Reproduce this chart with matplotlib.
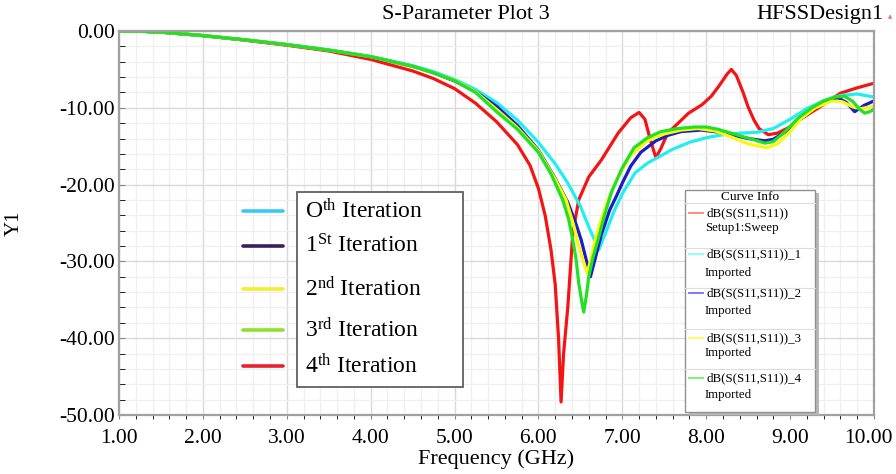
import numpy as np
import matplotlib
matplotlib.use("Agg")
import matplotlib.pyplot as plt
import matplotlib.transforms as mtransforms
from matplotlib.patches import Rectangle
from matplotlib.lines import Line2D

plt.rcParams['font.family'] = ['Liberation Serif', 'DejaVu Serif']
plt.rcParams['mathtext.fontset'] = 'custom'
plt.rcParams['mathtext.rm'] = 'Liberation Serif'
plt.rcParams['mathtext.it'] = 'Liberation Serif:italic'

# 4th iteration -> dB(S(S11,S11)) Setup1:Sweep
f_red = [1.0, 1.25, 1.5, 2.0, 2.5, 3.0, 3.5, 4.0, 4.5, 4.75, 5.0, 5.25, 5.5, 5.75, 5.9,
         6.0, 6.08, 6.15, 6.2, 6.24, 6.27, 6.3, 6.35, 6.41, 6.48, 6.6, 6.75, 6.95, 7.1,
         7.2, 7.27, 7.33, 7.4, 7.46, 7.52, 7.58, 7.79, 7.95, 8.06, 8.15, 8.25, 8.3,
         8.36, 8.44, 8.5, 8.57, 8.63, 8.74, 8.85, 8.98, 9.15, 9.34, 9.6, 9.8, 10.0]
db_red = [0.0, -0.03, -0.15, -0.6, -1.2, -1.85, -2.6, -3.7, -5.2, -6.2, -7.5, -9.4, -11.8,
          -14.8, -17.5, -20.5, -24.0, -28.5, -33.0, -40.0, -48.3, -42.0, -36.0, -26.3,
          -22.0, -19.0, -16.8, -13.3, -11.3, -10.6, -11.5, -14.0, -16.5, -15.3, -13.8,
          -12.9, -10.7, -9.6, -8.5, -7.2, -5.6, -5.0, -5.8, -8.0, -9.9, -11.6, -12.7,
          -13.5, -13.3, -12.6, -11.3, -10.0, -8.1, -7.4, -6.8]

# 0th iteration -> dB(S(S11,S11))_1
f_cyan = [1.0, 1.25, 1.5, 2.0, 2.5, 3.0, 3.5, 4.0, 4.5, 4.75, 5.0, 5.25, 5.5, 5.75, 6.0,
          6.2, 6.35, 6.5, 6.6, 6.72, 6.8, 6.9, 7.0, 7.15, 7.3, 7.45, 7.6, 7.8, 8.0, 8.2,
          8.4, 8.6, 8.8, 9.0, 9.2, 9.4, 9.6, 9.8, 10.0]
db_cyan = [0.0, -0.03, -0.15, -0.6, -1.15, -1.75, -2.45, -3.3, -4.5, -5.3, -6.3, -7.6,
           -9.3, -11.6, -14.5, -17.3, -19.8, -22.8, -25.5, -28.5, -26.3, -23.5, -21.2,
           -18.5, -17.2, -16.3, -15.4, -14.5, -13.9, -13.5, -13.3, -13.2, -12.7, -11.5,
           -10.1, -9.1, -8.4, -8.2, -8.6]

# 1st iteration -> dB(S(S11,S11))_2
f_blue = [1.0, 1.25, 1.5, 2.0, 2.5, 3.0, 3.5, 4.0, 4.5, 4.75, 5.0, 5.25, 5.5, 5.75, 6.0,
          6.2, 6.35, 6.45, 6.51, 6.57, 6.62, 6.68, 6.75, 6.85, 6.93, 7.0, 7.1, 7.22, 7.4,
          7.54, 7.7, 7.94, 8.1, 8.3, 8.5, 8.7, 8.8, 8.95, 9.13, 9.3, 9.46, 9.57, 9.67,
          9.77, 9.88, 10.0]
db_blue = [0.0, -0.03, -0.15, -0.6, -1.15, -1.78, -2.5, -3.35, -4.6, -5.45, -6.5, -7.9,
           -9.8, -12.3, -15.5, -19.2, -22.3, -25.2, -27.2, -29.8, -32.0, -29.5, -26.5,
           -23.3, -21.5, -19.8, -17.6, -15.8, -14.3, -13.6, -13.1, -12.9, -13.1, -13.5,
           -14.0, -14.3, -14.1, -13.1, -11.2, -9.9, -9.0, -8.7, -9.3, -10.5, -9.7, -9.1]

# 2nd iteration -> dB(S(S11,S11))_3
f_yellow = [1.0, 1.25, 1.5, 2.0, 2.5, 3.0, 3.5, 4.0, 4.5, 4.75, 5.0, 5.25, 5.5, 5.75, 6.0,
            6.2, 6.33, 6.42, 6.47, 6.53, 6.58, 6.62, 6.67, 6.75, 6.83, 6.95, 7.1, 7.3, 7.5,
            7.7, 7.9, 8.1, 8.3, 8.5, 8.72, 8.85, 9.0, 9.13, 9.3, 9.5, 9.62, 9.75, 9.85, 10.0]
db_yellow = [0.0, -0.03, -0.15, -0.6, -1.15, -1.78, -2.5, -3.35, -4.6, -5.45, -6.4, -7.9,
             -10.2, -12.6, -15.6, -19.3, -22.0, -25.3, -27.6, -29.8, -31.5, -30.0, -27.5,
             -24.5, -22.0, -19.0, -16.2, -14.3, -13.4, -12.9, -12.7, -13.0, -13.8, -14.7,
             -15.2, -14.7, -13.1, -11.4, -10.0, -9.1, -9.2, -9.9, -10.1, -9.8]

# 3rd iteration -> dB(S(S11,S11))_4
f_green = [1.0, 1.25, 1.5, 2.0, 2.5, 3.0, 3.5, 4.0, 4.5, 4.75, 5.0, 5.25, 5.5, 5.75, 6.0,
           6.15, 6.29, 6.36, 6.41, 6.45, 6.48, 6.51, 6.54, 6.57, 6.6, 6.65, 6.71, 6.78,
           6.87, 7.0, 7.14, 7.3, 7.46, 7.66, 7.86, 8.0, 8.14, 8.3, 8.42, 8.55, 8.7, 8.8,
           8.94, 9.1, 9.26, 9.4, 9.53, 9.65, 9.75, 9.83, 9.89, 9.95, 10.0]
db_green = [0.0, -0.03, -0.15, -0.6, -1.15, -1.78, -2.5, -3.35, -4.6, -5.45, -6.45, -8.0,
            -10.5, -12.8, -15.8, -18.6, -22.0, -24.5, -27.2, -29.8, -32.8, -34.8, -36.6,
            -34.6, -32.0, -29.5, -27.2, -24.3, -21.0, -17.8, -15.2, -13.9, -13.1, -12.7,
            -12.5, -12.5, -12.8, -13.3, -13.7, -14.1, -14.6, -14.4, -13.1, -11.3, -10.0,
            -9.1, -8.6, -8.5, -9.2, -10.2, -10.7, -10.5, -10.2]

iter_labels = [r'O$^{\mathrm{th}}$ Iteration', r'1$^{\mathrm{St}}$ Iteration',
               r'2$^{\mathrm{nd}}$ Iteration', r'3$^{\mathrm{rd}}$ Iteration',
               r'4$^{\mathrm{th}}$ Iteration']
iter_colors = ['#38c8f8', '#3b1e5e', '#f0f030', '#90e030', '#e82030']

info_names = ['dB(S(S11,S11))', 'dB(S(S11,S11))_1', 'dB(S(S11,S11))_2',
              'dB(S(S11,S11))_3', 'dB(S(S11,S11))_4']
info_sub = ['Setup1:Sweep', 'Imported', 'Imported', 'Imported', 'Imported']
info_colors = ['#ff8080', '#80ffff', '#7070f0', '#ffff50', '#70f070']

fig = plt.figure(figsize=(8.96, 4.74), dpi=100)
ax = fig.add_axes([0.1328, 0.1245, 0.8426, 0.8101])

ax.plot(f_red, db_red, color='#f41414', lw=2.3)
ax.plot(f_cyan, db_cyan, color='#22eef0', lw=2.3)
ax.plot(f_blue, db_blue, color='#1c1cc8', lw=2.3)
ax.plot(f_yellow, db_yellow, color='#f8f810', lw=2.3)
ax.plot(f_green, db_green, color='#22e022', lw=2.3)

ax.set_xlim(1, 10)
ax.set_ylim(-50, 0)
ax.set_xticks(np.arange(1, 10.5, 1))
ax.set_xticks(np.arange(1, 10.01, 0.2), minor=True)
ax.set_yticks(np.arange(-50, 0.5, 10))
ax.set_yticks(np.arange(-50, 0.5, 2), minor=True)
ax.set_xticklabels(['%.2f' % v for v in np.arange(1, 10.5, 1)])
ax.set_yticklabels(['%.2f' % v for v in np.arange(-50, 0.5, 10)])
ax.grid(which='major', color='#d9d9d9', lw=1.0)
ax.grid(which='minor', color='#efefef', lw=0.9)
ax.set_axisbelow(True)
ax.tick_params(axis='both', which='major', labelsize=15.5, color='#888888')
ax.tick_params(axis='x', which='both', direction='out', length=3, pad=7)
ax.tick_params(axis='y', which='both', direction='in', length=4, pad=3)
for s in ax.spines.values():
    s.set_color('#a0a0a0')
    s.set_linewidth(1.6)
ax.set_xlabel('Frequency (GHz)', fontsize=16, labelpad=1)

# last x label sits a bit left so it stays inside the figure
last = ax.get_xticklabels()[-1]
last.set_transform(last.get_transform() +
                   mtransforms.ScaledTranslation(-0.06, 0, fig.dpi_scale_trans))

fig.text(0.016, 0.53, 'Y1', rotation=90, fontsize=15, va='center', ha='center')
fig.text(0.52, 0.97, 'S-Parameter Plot 3', fontsize=16, ha='center', va='center')
fig.text(0.986, 0.97, 'HFSSDesign1', fontsize=16, ha='right', va='center')
fig.text(0.993, 0.965, '\u25b2', fontsize=4, color='#e07070', ha='center', va='center',
         family='DejaVu Sans')

# hand-drawn iteration legend
ax.add_patch(Rectangle((0.2358, 0.0729), 0.2198, 0.5078, transform=ax.transAxes,
                       facecolor='white', edgecolor='#606060', lw=1.3, zorder=5))
row_y = [0.531, 0.440, 0.328, 0.221, 0.128]
for yy, lab, col in zip(row_y, iter_labels, iter_colors):
    ax.add_line(Line2D([0.164, 0.217], [yy, yy], transform=ax.transAxes, color=col,
                       lw=2.6, solid_capstyle='round', zorder=6))
    ax.text(0.247, yy, lab, transform=ax.transAxes, fontsize=17, va='center',
            zorder=7)

# Curve Info box
ax.add_patch(Rectangle((0.755, 0.0), 0.172, 0.578, transform=ax.transAxes,
                       facecolor='#b8b8b8', edgecolor='none', zorder=5))
ax.add_patch(Rectangle((0.750, 0.008), 0.172, 0.578, transform=ax.transAxes,
                       facecolor='white', edgecolor='#909090', lw=1.0, zorder=6))
ax.text(0.836, 0.567, 'Curve Info', transform=ax.transAxes, fontsize=9.5,
        ha='center', va='center', zorder=7)
sep_y = [0.553, 0.436, 0.332, 0.223, 0.119]
for yy in sep_y:
    ax.add_line(Line2D([0.750, 0.922], [yy, yy], transform=ax.transAxes,
                       color='#dddddd', lw=0.8, zorder=7))
name_y = [0.525, 0.419, 0.318, 0.201, 0.096]
sub_y = [0.486, 0.370, 0.271, 0.161, 0.052]
for ny, sy, nm, sb, col in zip(name_y, sub_y, info_names, info_sub, info_colors):
    ax.add_line(Line2D([0.755, 0.773], [ny, ny], transform=ax.transAxes, color=col,
                       lw=1.3, zorder=7))
    ax.text(0.778, ny, nm, transform=ax.transAxes, fontsize=9.3, va='center', zorder=7)
    ax.text(0.776, sy, sb, transform=ax.transAxes, fontsize=9.3, va='center', zorder=7)

fig.savefig('out.png', dpi=100)
